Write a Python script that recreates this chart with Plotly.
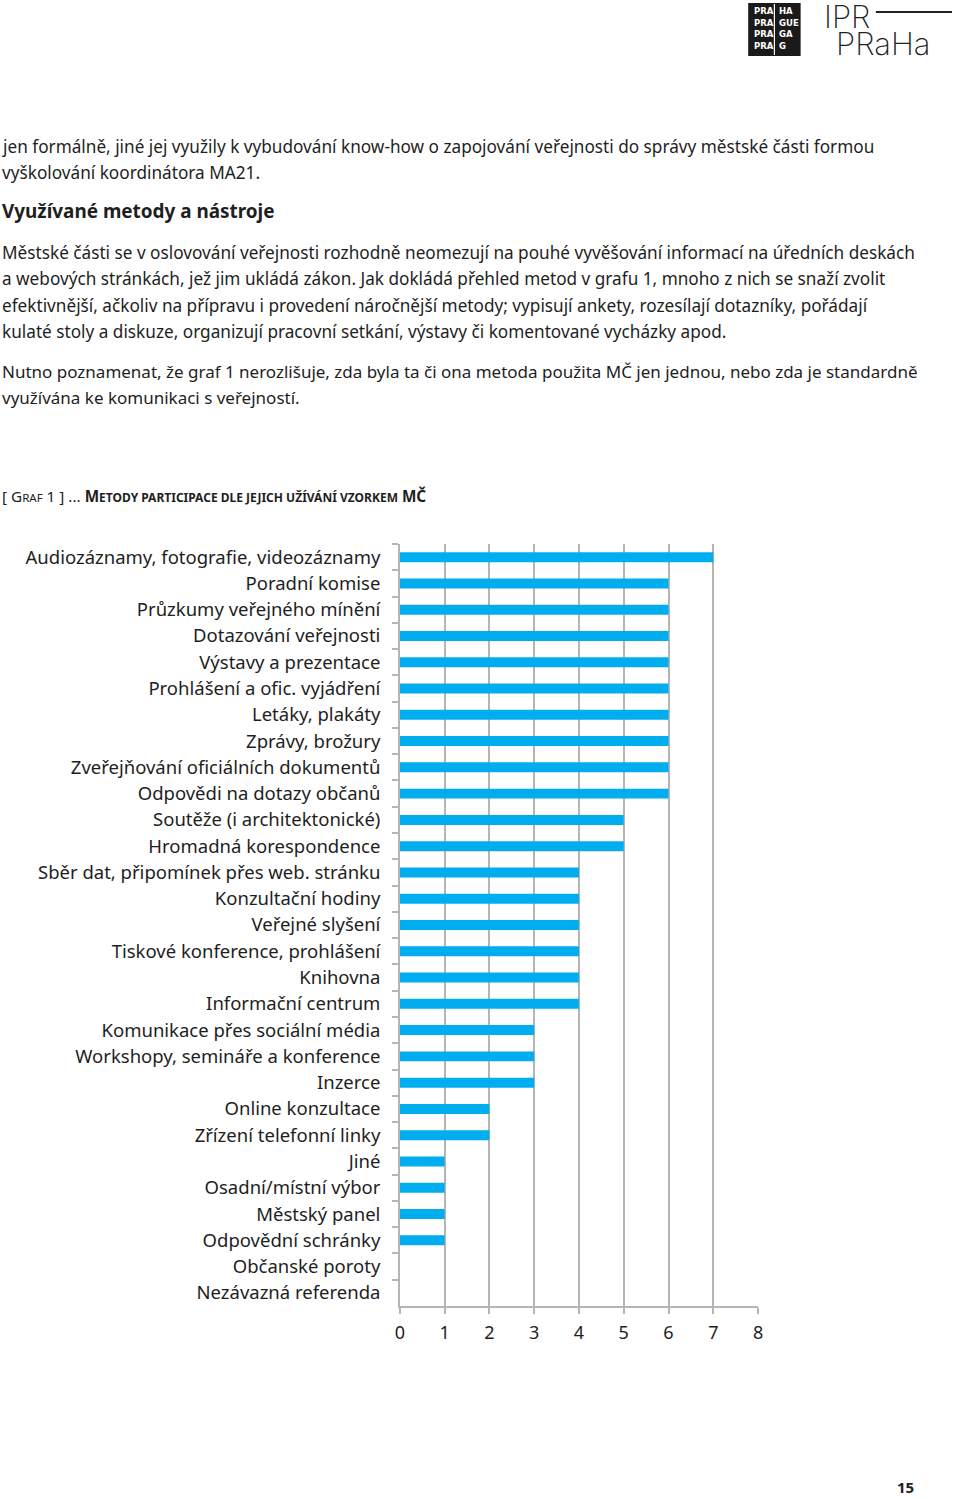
import plotly.graph_objects as go

# chart data (graf 1)
methods = [
    "Audiozáznamy, fotografie, videozáznamy",
    "Poradní komise",
    "Průzkumy veřejného mínění",
    "Dotazování veřejnosti",
    "Výstavy a prezentace",
    "Prohlášení a ofic. vyjádření",
    "Letáky, plakáty",
    "Zprávy, brožury",
    "Zveřejňování oficiálních dokumentů",
    "Odpovědi na dotazy občanů",
    "Soutěže (i architektonické)",
    "Hromadná korespondence",
    "Sběr dat, připomínek přes web. stránku",
    "Konzultační hodiny",
    "Veřejné slyšení",
    "Tiskové konference, prohlášení",
    "Knihovna",
    "Informační centrum",
    "Komunikace přes sociální média",
    "Workshopy, semináře a konference",
    "Inzerce",
    "Online konzultace",
    "Zřízení telefonní linky",
    "Jiné",
    "Osadní/místní výbor",
    "Městský panel",
    "Odpovědní schránky",
    "Občanské poroty",
    "Nezávazná referenda",
]
counts = [7, 6, 6, 6, 6, 6, 6, 6, 6, 6, 5, 5, 4, 4, 4, 4, 4, 4, 3, 3, 3, 2, 2, 1, 1, 1, 1, 0, 0]
x_ticks = list(range(0, 9))

# page text
intro_lines = [
    "jen formálně, jiné jej využily k vybudování know-how o zapojování veřejnosti do správy městské části formou",
    "vyškolování koordinátora MA21.",
]
heading = "Využívané metody a nástroje"
para1_lines = [
    "Městské části se v oslovování veřejnosti rozhodně neomezují na pouhé vyvěšování informací na úředních deskách",
    "a webových stránkách, jež jim ukládá zákon. Jak dokládá přehled metod v grafu 1, mnoho z nich se snaží zvolit",
    "efektivnější, ačkoliv na přípravu i provedení náročnější metody; vypisují ankety, rozesílají dotazníky, pořádají",
    "kulaté stoly a diskuze, organizují pracovní setkání, výstavy či komentované vycházky apod.",
]
para2_lines = [
    "Nutno poznamenat, že graf 1 nerozlišuje, zda byla ta či ona metoda použita MČ jen jednou, nebo zda je standardně",
    "využívána ke komunikaci s veřejností.",
]
logo_left = ["PRA", "PRA", "PRA", "PRA"]
logo_right = ["HA", "GUE", "GA", "G"]
page_number = "15"

W, H = 960, 1499
FONT = "Noto Sans, Open Sans, sans-serif"
TXT = "#1e1e1e"
GRID = "#b5b5b5"
BLUE = "#00aeef"


def py(px):
    return 1 - px / H


def px_x(px):
    return px / W


fig = go.Figure()
fig.add_trace(go.Bar(
    x=counts,
    y=methods,
    orientation="h",
    marker=dict(color=BLUE, line=dict(width=0)),
    hoverinfo="x+y",
))

annotations = []


def add_text(text, x, y, size=17.2, bold=False, anchor="left", family=FONT, color=TXT, weight=None, pad=7):
    if anchor == "left":
        x = x - pad
    font = dict(family=family, size=size, color=color)
    if weight:
        font["weight"] = weight
    annotations.append(dict(
        text=f"<b>{text}</b>" if bold else text,
        x=px_x(x), y=py(y), xref="paper", yref="paper",
        xanchor=anchor, yanchor="middle", showarrow=False,
        font=font,
    ))


for i, line in enumerate(intro_lines):
    add_text(line, 2, 146 + i * 26.5)
add_text(heading, 2, 211, size=18.9, bold=True)
for i, line in enumerate(para1_lines):
    add_text(line, 2, 252 + i * 26.6)
for i, line in enumerate(para2_lines):
    add_text(line, 2, 371 + i * 26.6, size=17)

caption = ("[ G<span style='font-size:11.5px'>RAF</span> 1 ] ... "
           "<b>M<span style='font-size:12px'>ETODY PARTICIPACE DLE JEJICH UŽÍVÁNÍ VZORKEM</span> MČ</b>")
add_text(caption, 2, 496, size=15.3)

add_text(page_number, 910, 1487, size=15, bold=True, anchor="center")

# logo texts
for i in range(4):
    add_text(f"<b>{logo_left[i]}</b>", 758, 11 + i * 11.7, size=8.5, color="white", family="DejaVu Sans", pad=3)
    add_text(f"<b>{logo_right[i]}</b>", 783, 11 + i * 11.7, size=8.5, color="white", family="DejaVu Sans", pad=3)
add_text("IPR", 833, 17, size=31, family="Inter, sans-serif", color="#222", weight=200)
add_text("PRaHa", 845, 44, size=31, family="Inter, sans-serif", color="#222", weight=200)

shapes = [
    dict(type="rect", xref="paper", yref="paper", x0=px_x(751), x1=px_x(804), y0=py(56), y1=py(3),
         fillcolor="#1a1a1a", line=dict(width=0), layer="below"),
    dict(type="line", xref="paper", yref="paper", x0=px_x(777.5), x1=px_x(777.5), y0=py(55), y1=py(4),
         line=dict(color="white", width=1.2), layer="above"),
    dict(type="line", xref="paper", yref="paper", x0=px_x(880), x1=px_x(957), y0=py(12), y1=py(12),
         line=dict(color="#222", width=2)),
]

fig.update_layout(
    width=W, height=H,
    margin=dict(l=0, r=0, t=0, b=0),
    paper_bgcolor="white",
    plot_bgcolor="white",
    showlegend=False,
    bargap=0.62,
    annotations=annotations,
    shapes=shapes,
    font=dict(family=FONT, color=TXT),
    xaxis=dict(
        domain=[px_x(399), px_x(761)],
        range=[0, 8],
        tickvals=x_ticks,
        showgrid=True, gridcolor=GRID, gridwidth=1.5,
        showline=True, linecolor=GRID, linewidth=1.5,
        ticks="outside", ticklen=6, tickcolor=GRID, tickwidth=1.5,
        tickfont=dict(size=18, color=TXT),
        ticklabelstandoff=4,
        zeroline=False,
        fixedrange=True,
    ),
    yaxis=dict(
        domain=[py(1306), py(544)],
        categoryorder="array", categoryarray=methods,
        range=[len(methods) - 0.5, -0.5],
        showgrid=False,
        showline=True, linecolor=GRID, linewidth=1.5,
        ticks="outside", ticklen=6, tickcolor=GRID, tickwidth=1.5,
        tickson="boundaries",
        ticklabelstandoff=14,
        tickfont=dict(size=18.5, color=TXT),
        fixedrange=True,
    ),
)

# the page body has a default 8px margin; drop it so the figure sits at the window corner
fig.write_html(
    "out.html",
    config={"displayModeBar": False},
    post_script="document.body.style.margin='0';document.body.style.overflow='hidden';",
)
